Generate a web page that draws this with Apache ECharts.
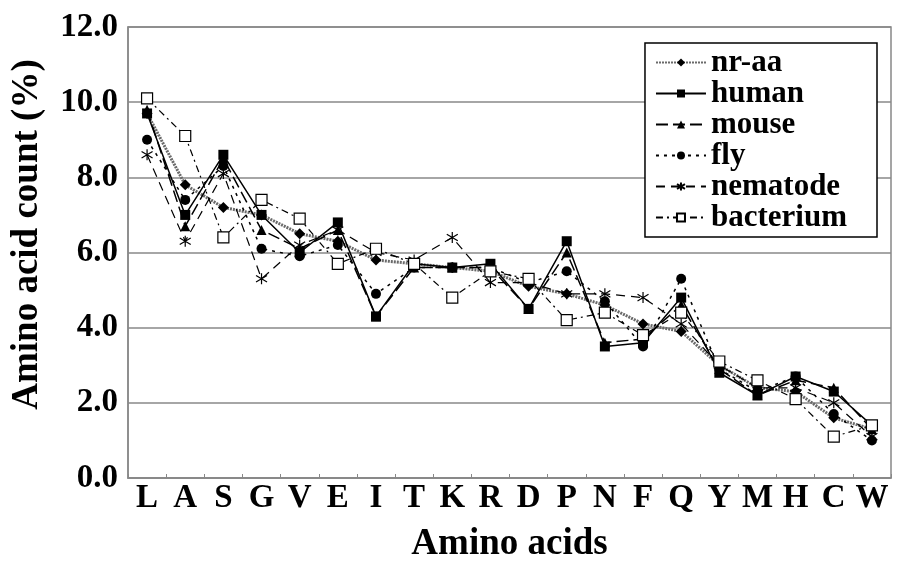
<!DOCTYPE html>
<html><head><meta charset="utf-8">
<script src="https://cdn.jsdelivr.net/npm/echarts@6/dist/echarts.min.js"></script>
<style>html,body{margin:0;padding:0;background:#fff}#c{width:902px;height:568px}</style>
</head><body><div id="c"></div>
<script>
const categories = ['L','A','S','G','V','E','I','T','K','R','D','P','N','F','Q','Y','M','H','C','W'];
const nraa      = [9.7,7.8,7.2,7.0,6.5,6.3,5.8,5.7,5.6,5.5,5.1,4.9,4.6,4.1,3.9,3.0,2.4,2.3,1.6,1.3];
const human     = [9.7,7.0,8.6,7.0,6.0,6.8,4.3,5.7,5.6,5.7,4.5,6.3,3.5,3.6,4.8,2.8,2.2,2.7,2.3,1.4];
const mouse     = [9.8,6.7,8.5,6.6,6.1,6.6,4.3,5.6,5.6,5.6,4.5,6.0,3.6,3.7,4.6,2.9,2.2,2.6,2.4,1.3];
const fly       = [9.0,7.4,8.3,6.1,5.9,6.2,4.9,5.6,5.6,5.6,5.2,5.5,4.7,3.5,5.3,2.9,2.3,2.7,1.7,1.0];
const nematode  = [8.6,6.3,8.1,5.3,6.2,6.6,6.0,5.8,6.4,5.2,5.2,4.9,4.9,4.8,4.1,3.0,2.4,2.4,2.0,1.1];
const bacterium = [10.1,9.1,6.4,7.4,6.9,5.7,6.1,5.7,4.8,5.5,5.3,4.2,4.4,3.8,4.4,3.1,2.6,2.1,1.1,1.4];
const yTicks = [0,2,4,6,8,10,12];

const font = '"Liberation Serif","Times New Roman",serif';
const star = 'path://M0,-5L0,5M-4.5,-3L4.5,3M-4.5,3L4.5,-3';
function mk(name, data, line, symbol, size, item) {
  return {name, type:'line', data, symbol, symbolSize:size, lineStyle:line,
    itemStyle:item, emphasis:{disabled:true}, animation:false};
}
const series = [
  mk('nr-aa', nraa, {color:'#6a6a6a', width:3, type:[2,1]}, 'diamond', 11, {color:'#000'}),
  mk('human', human, {color:'#000', width:1.5, type:'solid'}, 'rect', 10, {color:'#000'}),
  mk('mouse', mouse, {color:'#000', width:1.5, type:[12,5]}, 'triangle', 10, {color:'#000'}),
  mk('fly', fly, {color:'#000', width:1.5, type:[3,5]}, 'circle', 10, {color:'#000'}),
  mk('nematode', nematode, {color:'#000', width:1.2, type:[9,6]}, star, 11, {color:'none', borderColor:'#000', borderWidth:1.2}),
  mk('bacterium', bacterium, {color:'#000', width:1.2, type:[7,4,2,4]}, 'rect', 11, {color:'#fff', borderColor:'#000', borderWidth:1.2})
];
const chart = echarts.init(document.getElementById('c'));
chart.setOption({
  backgroundColor:'#fff',
  animation:false,
  grid:{left:128, right:11, top:27, bottom:88, show:true, borderColor:'#888', borderWidth:1.5},
  xAxis:{type:'category', data:categories, boundaryGap:true,
    name:'Amino acids', nameLocation:'middle', nameGap:48,
    nameTextStyle:{fontFamily:font, fontWeight:'bold', fontSize:37, color:'#000'},
    axisLine:{lineStyle:{color:'#888', width:1.5}},
    axisTick:{show:true, inside:true, length:4, lineStyle:{color:'#888'}},
    axisLabel:{fontFamily:font, fontWeight:'bold', fontSize:33, color:'#000', margin:4, interval:0}},
  yAxis:{type:'value', min:0, max:12, interval:2,
    name:'Amino acid count (%)', nameLocation:'middle', nameGap:82,
    nameTextStyle:{fontFamily:font, fontWeight:'bold', fontSize:37, color:'#000', padding:[0,0,0,36]},
    axisLine:{show:true, lineStyle:{color:'#888', width:1.5}},
    axisTick:{show:false},
    splitLine:{lineStyle:{color:'#888', width:1.5}},
    axisLabel:{fontFamily:font, fontWeight:'bold', fontSize:33, color:'#000', margin:10,
      formatter:v=>v.toFixed(1)}},
  legend:{show:true, orient:'vertical', right:25, top:43, itemGap:0, itemWidth:50, itemHeight:10,
    padding:[4,30,4,10], borderColor:'#000', borderWidth:1.5, backgroundColor:'#fff',
    textStyle:{fontFamily:font, fontWeight:'bold', fontSize:31, color:'#000'},
    data:series.map(s=>s.name)},
  series
});
</script></body></html>
